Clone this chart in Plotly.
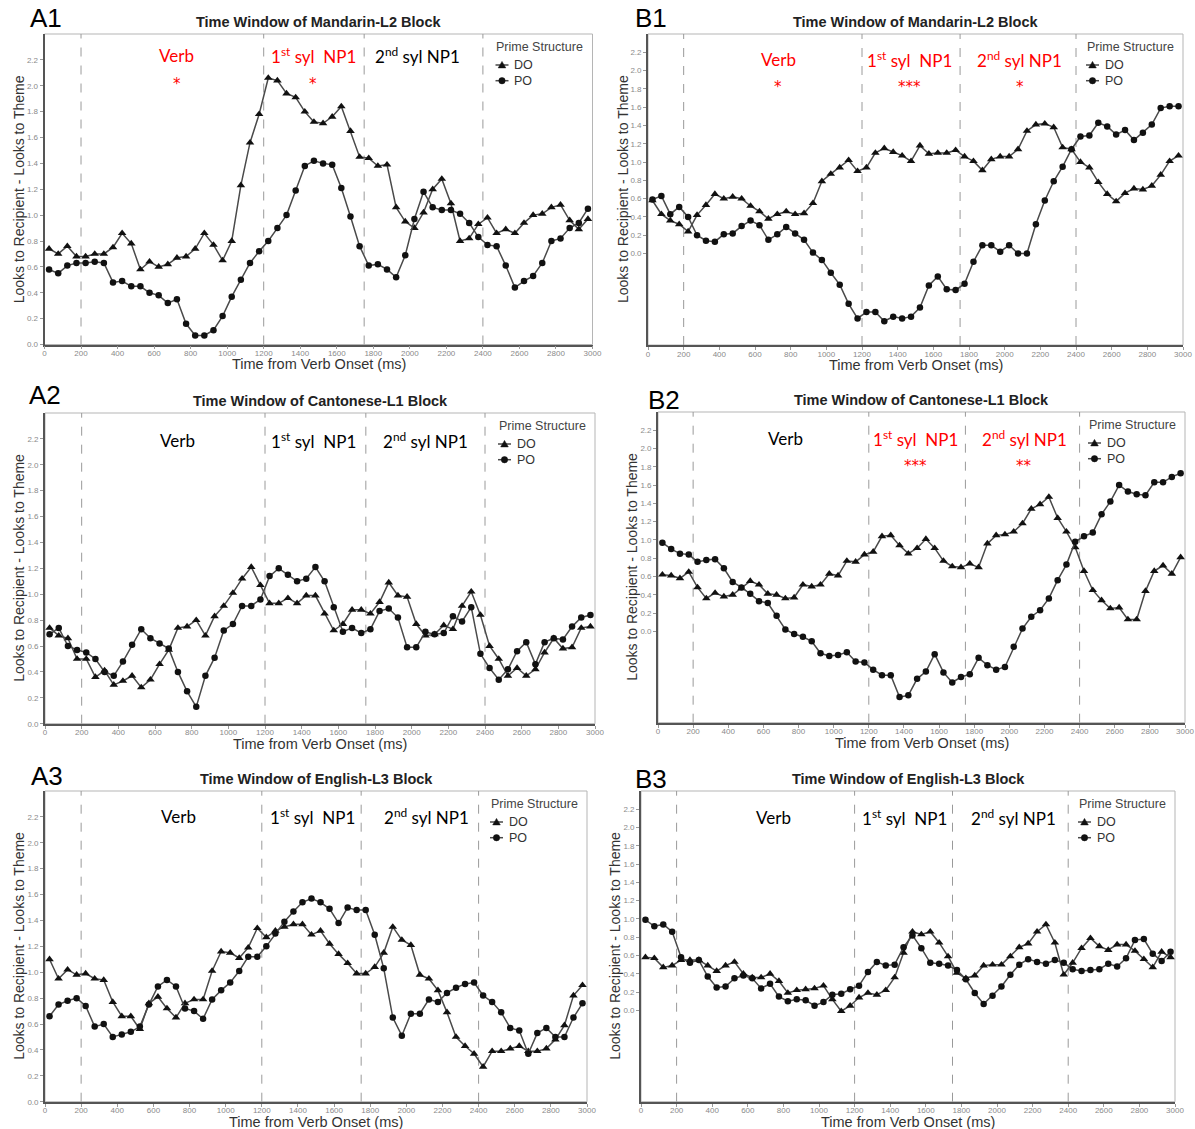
import plotly.graph_objects as go

W, H = 1195, 1129

# ---------------- data ----------------
time_ms = [25, 75, 125, 175, 225, 275, 325, 375, 425, 475,
           525, 575, 625, 675, 725, 775, 825, 875, 925, 975,
           1025, 1075, 1125, 1175, 1225, 1275, 1325, 1375, 1425, 1475,
           1525, 1575, 1625, 1675, 1725, 1775, 1825, 1875, 1925, 1975,
           2025, 2075, 2125, 2175, 2225, 2275, 2325, 2375, 2425, 2475,
           2525, 2575, 2625, 2675, 2725, 2775, 2825, 2875, 2925, 2975]

x_tick_vals = [0, 200, 400, 600, 800, 1000, 1200, 1400, 1600, 1800,
               2000, 2200, 2400, 2600, 2800, 3000]
y_tick_vals = [0.0, 0.2, 0.4, 0.6, 0.8, 1.0, 1.2, 1.4, 1.6, 1.8, 2.0, 2.2]
boundaries_ms = [200, 1200, 1750, 2400]

a1_do = [0.74, 0.70, 0.76, 0.68, 0.68, 0.70, 0.70, 0.75, 0.86, 0.78,
         0.58, 0.64, 0.60, 0.62, 0.67, 0.68, 0.74, 0.86, 0.77, 0.65,
         0.80, 1.23, 1.56, 1.78, 2.06, 2.04, 1.94, 1.91, 1.80, 1.72,
         1.71, 1.76, 1.84, 1.65, 1.45, 1.44, 1.38, 1.39, 1.06, 0.95,
         0.90, 1.02, 1.20, 1.28, 1.09, 0.80, 0.82, 0.93, 0.98, 0.86,
         0.89, 0.86, 0.94, 1.00, 1.01, 1.06, 1.08, 0.96, 0.89, 0.97]
a1_po = [0.58, 0.55, 0.61, 0.63, 0.63, 0.64, 0.63, 0.48, 0.49, 0.45,
         0.45, 0.40, 0.38, 0.32, 0.35, 0.16, 0.07, 0.07, 0.11, 0.22,
         0.37, 0.50, 0.63, 0.72, 0.80, 0.90, 1.00, 1.19, 1.38, 1.42,
         1.40, 1.39, 1.21, 0.99, 0.76, 0.61, 0.62, 0.58, 0.52, 0.69,
         0.97, 1.18, 1.06, 1.04, 1.04, 1.01, 0.94, 0.83, 0.77, 0.76,
         0.61, 0.44, 0.49, 0.53, 0.63, 0.80, 0.82, 0.90, 0.94, 1.05]

b1_do = [0.58, 0.43, 0.36, 0.32, 0.24, 0.42, 0.53, 0.65, 0.60, 0.62,
         0.60, 0.52, 0.46, 0.38, 0.43, 0.46, 0.43, 0.44, 0.55, 0.79,
         0.87, 0.94, 1.02, 0.90, 0.94, 1.10, 1.15, 1.11, 1.07, 1.01,
         1.18, 1.09, 1.10, 1.10, 1.13, 1.06, 1.01, 0.91, 1.03, 1.06,
         1.06, 1.14, 1.34, 1.41, 1.42, 1.38, 1.16, 1.14, 1.00, 0.94,
         0.78, 0.65, 0.57, 0.66, 0.71, 0.70, 0.74, 0.86, 1.01, 1.07]
b1_po = [0.59, 0.63, 0.43, 0.51, 0.40, 0.20, 0.14, 0.13, 0.21, 0.22,
         0.30, 0.36, 0.31, 0.15, 0.21, 0.29, 0.22, 0.15, 0.01, -0.07,
         -0.21, -0.34, -0.55, -0.71, -0.64, -0.64, -0.74, -0.69, -0.71, -0.69,
         -0.59, -0.35, -0.25, -0.39, -0.40, -0.33, -0.09, 0.09, 0.09, 0.02,
         0.09, 0.00, 0.00, 0.32, 0.58, 0.79, 0.95, 1.14, 1.28, 1.29,
         1.43, 1.39, 1.30, 1.35, 1.24, 1.32, 1.41, 1.59, 1.61, 1.61]

a2_do = [0.74, 0.68, 0.66, 0.50, 0.50, 0.36, 0.41, 0.30, 0.33, 0.37,
         0.28, 0.34, 0.46, 0.57, 0.74, 0.75, 0.80, 0.68, 0.83, 0.91,
         1.01, 1.12, 1.21, 1.07, 0.93, 0.93, 0.97, 0.93, 0.99, 0.99,
         0.85, 0.72, 0.77, 0.88, 0.88, 0.85, 0.94, 1.09, 0.99, 0.98,
         0.77, 0.68, 0.69, 0.76, 0.73, 0.91, 1.02, 0.84, 0.60, 0.50,
         0.37, 0.43, 0.37, 0.42, 0.55, 0.66, 0.58, 0.59, 0.74, 0.75]
a2_po = [0.69, 0.74, 0.60, 0.57, 0.55, 0.50, 0.40, 0.37, 0.48, 0.61,
         0.73, 0.66, 0.62, 0.58, 0.40, 0.25, 0.13, 0.37, 0.51, 0.72,
         0.77, 0.91, 0.91, 0.96, 1.14, 1.20, 1.15, 1.10, 1.12, 1.21,
         1.10, 0.90, 0.71, 0.74, 0.70, 0.73, 0.87, 0.89, 0.82, 0.59,
         0.59, 0.71, 0.69, 0.70, 0.83, 0.79, 0.90, 0.54, 0.43, 0.34,
         0.42, 0.56, 0.63, 0.46, 0.63, 0.66, 0.65, 0.75, 0.82, 0.84]

b2_do = [0.62, 0.61, 0.58, 0.65, 0.48, 0.36, 0.42, 0.38, 0.40, 0.47,
         0.55, 0.51, 0.41, 0.40, 0.36, 0.37, 0.51, 0.49, 0.51, 0.63,
         0.61, 0.77, 0.76, 0.84, 0.87, 1.04, 1.05, 0.94, 0.85, 0.91,
         1.01, 0.91, 0.77, 0.71, 0.70, 0.74, 0.70, 0.96, 1.05, 1.06,
         1.09, 1.18, 1.34, 1.39, 1.47, 1.24, 1.09, 0.92, 0.66, 0.45,
         0.34, 0.25, 0.26, 0.13, 0.13, 0.44, 0.66, 0.72, 0.63, 0.81]
b2_po = [0.97, 0.90, 0.85, 0.84, 0.76, 0.78, 0.79, 0.69, 0.54, 0.48,
         0.41, 0.33, 0.31, 0.17, 0.02, -0.03, -0.06, -0.11, -0.24, -0.27,
         -0.26, -0.23, -0.33, -0.34, -0.42, -0.48, -0.48, -0.72, -0.70, -0.52,
         -0.44, -0.25, -0.45, -0.56, -0.50, -0.47, -0.29, -0.37, -0.42, -0.39,
         -0.17, 0.03, 0.16, 0.23, 0.36, 0.56, 0.73, 0.98, 1.04, 1.08,
         1.28, 1.42, 1.60, 1.53, 1.50, 1.49, 1.63, 1.63, 1.69, 1.73]

a3_do = [1.10, 0.95, 1.02, 0.98, 0.99, 0.95, 0.94, 0.77, 0.66, 0.66,
         0.56, 0.76, 0.81, 0.72, 0.65, 0.76, 0.79, 0.79, 1.01, 1.16,
         1.15, 1.11, 1.19, 1.34, 1.27, 1.32, 1.35, 1.37, 1.37, 1.29,
         1.32, 1.22, 1.14, 1.07, 0.99, 0.99, 1.04, 1.15, 1.35, 1.25,
         1.21, 0.98, 0.95, 0.86, 0.69, 0.50, 0.43, 0.37, 0.27, 0.39,
         0.39, 0.41, 0.43, 0.39, 0.39, 0.41, 0.48, 0.59, 0.82, 0.90]
a3_po = [0.66, 0.75, 0.78, 0.80, 0.74, 0.58, 0.60, 0.50, 0.52, 0.54,
         0.58, 0.75, 0.89, 0.94, 0.89, 0.72, 0.70, 0.64, 0.79, 0.86,
         0.92, 1.01, 1.12, 1.12, 1.20, 1.30, 1.39, 1.47, 1.54, 1.57,
         1.54, 1.49, 1.38, 1.50, 1.48, 1.48, 1.29, 1.03, 0.65, 0.51,
         0.68, 0.68, 0.79, 0.77, 0.84, 0.88, 0.91, 0.92, 0.82, 0.77,
         0.69, 0.57, 0.55, 0.37, 0.53, 0.57, 0.50, 0.50, 0.65, 0.76]

b3_do = [0.58, 0.57, 0.47, 0.49, 0.55, 0.55, 0.55, 0.49, 0.43, 0.49,
         0.53, 0.40, 0.36, 0.36, 0.40, 0.32, 0.19, 0.22, 0.23, 0.24,
         0.27, 0.12, -0.01, 0.05, 0.14, 0.19, 0.17, 0.22, 0.36, 0.63,
         0.86, 0.83, 0.86, 0.74, 0.59, 0.41, 0.35, 0.38, 0.49, 0.50,
         0.50, 0.59, 0.69, 0.73, 0.86, 0.94, 0.74, 0.39, 0.52, 0.68,
         0.79, 0.70, 0.66, 0.72, 0.72, 0.65, 0.56, 0.47, 0.64, 0.58]
b3_po = [0.99, 0.92, 0.94, 0.86, 0.58, 0.52, 0.55, 0.37, 0.25, 0.26,
         0.35, 0.38, 0.35, 0.24, 0.29, 0.15, 0.10, 0.12, 0.11, 0.05,
         0.09, 0.17, 0.18, 0.23, 0.27, 0.42, 0.53, 0.49, 0.50, 0.69,
         0.82, 0.68, 0.52, 0.51, 0.49, 0.44, 0.34, 0.19, 0.07, 0.16,
         0.26, 0.39, 0.50, 0.56, 0.53, 0.51, 0.55, 0.52, 0.45, 0.43,
         0.44, 0.45, 0.51, 0.48, 0.57, 0.77, 0.78, 0.62, 0.54, 0.64]

panel_names = ["A1", "B1", "A2", "B2", "A3", "B3"]
panel_titles = ["Time Window of Mandarin-L2 Block", "Time Window of Mandarin-L2 Block",
                "Time Window of Cantonese-L1 Block", "Time Window of Cantonese-L1 Block",
                "Time Window of English-L3 Block", "Time Window of English-L3 Block"]
series_do = [a1_do, b1_do, a2_do, b2_do, a3_do, b3_do]
series_po = [a1_po, b1_po, a2_po, b2_po, a3_po, b3_po]
window_labels = ["Verb", "1<sup>st</sup> syl\u00a0\u00a0NP1", "2<sup>nd</sup> syl NP1"]
# significance marks per panel (per window)
sig_marks = [["*", "*", ""], ["*", "***", "*"], ["", "", ""],
             ["", "***", "**"], ["", "", ""], ["", "", ""]]
legend_title = "Prime Structure"
legend_names = ["DO", "PO"]

# ---------------- layout geometry (pixels) ----------------
geo = [(44.5, 592.5, 34, 344.5),    # A1: x0, x1, ytop, ybottom
       (648, 1183, 34, 345),        # B1
       (45, 595, 413, 723.7),       # A2
       (658, 1185, 412, 722.7),     # B2
       (45, 587, 791, 1101.7),      # A3
       (641, 1175, 791, 1101.7)]    # B3
y_ranges = [[0, 2.4], [-1, 2.4], [0, 2.4], [-1, 2.4], [0, 2.4], [-1, 2.4]]
panel_label_pos = [(45.5, 18), (651, 18), (45, 395), (663.5, 400), (46.5, 776), (650.7, 779)]
label_x_ms = [[725, 1470, 2040], [729, 1465, 2086], [725, 1462, 2078],
              [725, 1466, 2085], [739, 1483, 2109], [747, 1479, 2090]]
label_y_dom = [0.932, 0.919, 0.912, 0.915, 0.917, 0.915]
star_y_dom = [0.84, 0.83, 0.83, 0.826, 0.83, 0.83]
label_colors = [["red", "red", "black"], ["red", "red", "red"], ["black"] * 3,
                ["black", "red", "red"], ["black"] * 3, ["black"] * 3]

LINE = "#4a4a4a"
FONT = "Liberation Sans"


def px(x):
    return x / W


def py(y):
    return 1 - y / H


fig = go.Figure()
layout = dict(width=W, height=H, margin=dict(l=0, r=0, t=0, b=0, autoexpand=False),
              paper_bgcolor="white", plot_bgcolor="white", showlegend=False,
              font=dict(family=FONT, color="#333"))
annotations = []
shapes = []

for i, name in enumerate(panel_names):
    k = "" if i == 0 else str(i + 1)
    xa, ya = "x" + k, "y" + k
    x0, x1, yt, yb = geo[i]

    fig.add_trace(go.Scatter(x=time_ms, y=series_do[i], mode="lines+markers",
                             name=legend_names[0], xaxis=xa, yaxis=ya, cliponaxis=False,
                             line=dict(color=LINE, width=1.5),
                             marker=dict(symbol="triangle-up", size=7.5, color="#111")))
    fig.add_trace(go.Scatter(x=time_ms, y=series_po[i], mode="lines+markers",
                             name=legend_names[1], xaxis=xa, yaxis=ya, cliponaxis=False,
                             line=dict(color=LINE, width=1.5),
                             marker=dict(symbol="circle", size=6.5, color="#111")))

    axis_common = dict(showgrid=False, zeroline=False, showline=True, linecolor="#555",
                       linewidth=1.8, ticks="outside", ticklen=3, tickcolor="#999",
                       tickwidth=1, automargin=False, ticklabeloverflow="allow",
                       tickfont=dict(family=FONT, size=8, color="#8a8a8a"))
    layout["xaxis" + k] = dict(domain=[px(x0), px(x1)], anchor=ya, range=[0, 3000],
                               tickvals=x_tick_vals, ticklabelstandoff=-3, **axis_common)
    layout["yaxis" + k] = dict(domain=[py(yb), py(yt)], anchor=xa, range=y_ranges[i],
                               tickvals=y_tick_vals, tickformat=".1f", **axis_common)

    # frame
    shapes.append(dict(type="rect", xref="paper", yref="paper", x0=px(x0), x1=px(x1),
                       y0=py(yb), y1=py(yt), line=dict(color="#b5b5b5", width=1), layer="below"))
    # window boundaries
    for b in boundaries_ms:
        shapes.append(dict(type="line", xref=xa, yref=ya + " domain", x0=b, x1=b, y0=0, y1=1,
                           line=dict(color="#9a9a9a", width=1, dash="dash"), layer="below"))

    # panel label
    lx, ly = panel_label_pos[i]
    annotations.append(dict(text=name, x=px(lx), y=py(ly), xref="paper", yref="paper",
                            showarrow=False, xanchor="center", yanchor="middle",
                            font=dict(family=FONT, size=26, color="black")))
    # title
    annotations.append(dict(text="<b>" + panel_titles[i] + "</b>", x=px((x0 + x1) / 2),
                            y=py(yt - 12), xref="paper", yref="paper", showarrow=False,
                            xanchor="center", yanchor="middle",
                            font=dict(family=FONT, size=14.5, color="#222")))
    # axis titles
    annotations.append(dict(text="Time from Verb Onset (ms)", x=px((x0 + x1) / 2), y=py(yb + 20),
                            xref="paper", yref="paper", showarrow=False, xanchor="center",
                            yanchor="middle", font=dict(family=FONT, size=14.5, color="#333")))
    annotations.append(dict(text="Looks to Recipient - Looks to Theme", x=px(x0 - 25.5),
                            y=py((yt + yb) / 2), xref="paper", yref="paper", showarrow=False,
                            textangle=-90, xanchor="center", yanchor="middle",
                            font=dict(family=FONT, size=14, color="#333")))
    # window labels and significance stars
    for j, lab in enumerate(window_labels):
        annotations.append(dict(text=lab, x=label_x_ms[i][j], y=label_y_dom[i], xref=xa,
                                yref=ya + " domain", showarrow=False, xanchor="center",
                                yanchor="middle",
                                font=dict(family="Lato", size=17, color=label_colors[i][j])))
        if sig_marks[i][j]:
            annotations.append(dict(text=sig_marks[i][j], x=label_x_ms[i][j], y=star_y_dom[i],
                                    xref=xa, yref=ya + " domain", showarrow=False,
                                    xanchor="center", yanchor="middle",
                                    font=dict(family="DejaVu Sans", size=15, color="red")))
    # legend (drawn inside the panel)
    gx = x1 - 97
    annotations.append(dict(text=legend_title, x=px(gx - 1.5), y=py(yt + 13.3), xref="paper",
                            yref="paper", showarrow=False, xanchor="left", yanchor="middle",
                            font=dict(family=FONT, size=12.5, color="#444")))
    for r, nm in enumerate(legend_names):
        cy = yt + 31 + 15.7 * r
        shapes.append(dict(type="line", xref="paper", yref="paper", x0=px(gx), x1=px(gx + 13),
                           y0=py(cy), y1=py(cy), line=dict(color=LINE, width=1.5)))
        cx = gx + 6.5
        if r == 0:
            path = "M {} {} L {} {} L {} {} Z".format(px(cx - 3.8), py(cy + 2.9), px(cx + 3.8),
                                                      py(cy + 2.9), px(cx), py(cy - 3.6))
            shapes.append(dict(type="path", xref="paper", yref="paper", path=path,
                               fillcolor="#111", line=dict(color="#111", width=0.5)))
        else:
            shapes.append(dict(type="circle", xref="paper", yref="paper", x0=px(cx - 3.2),
                               x1=px(cx + 3.2), y0=py(cy + 3.2), y1=py(cy - 3.2),
                               fillcolor="#111", line=dict(color="#111", width=0.5)))
        annotations.append(dict(text=nm, x=px(gx + 16.5), y=py(cy), xref="paper", yref="paper",
                                showarrow=False, xanchor="left", yanchor="middle",
                                font=dict(family=FONT, size=12.5, color="#333")))

layout["annotations"] = annotations
layout["shapes"] = shapes
fig.update_layout(**layout)
fig.write_html("out.html", config={"displayModeBar": False},
               post_script="document.body.style.margin='0';document.body.style.overflow='hidden';")
